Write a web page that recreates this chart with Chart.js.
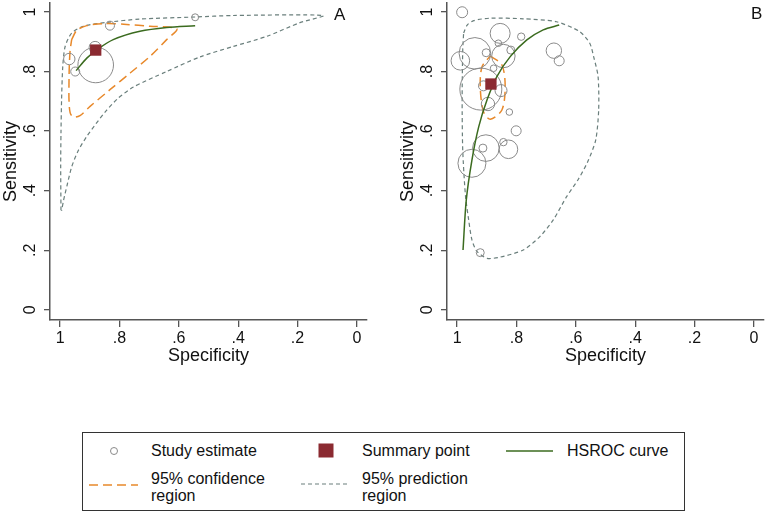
<!DOCTYPE html>
<html>
<head>
<meta charset="utf-8">
<script src="https://cdn.jsdelivr.net/npm/chart.js@4.4.1/dist/chart.umd.min.js"></script>
<style>
  body { margin: 0; background: #fff; font-family: "Liberation Sans", Arial, sans-serif; }
  #wrap { position: relative; width: 767px; height: 514px; overflow: hidden; background: #fff; }
  canvas { position: absolute; top: 0; }
  #chartA { left: 0; }
  #chartB { left: 397px; }
  .panel { position: absolute; font-size: 17px; color: #111; }
  #legend { position: absolute; left: 82px; top: 432px; width: 603px; height: 79px;
            border: 1.5px solid #333; box-sizing: border-box; }
  .lg { position: absolute; font-size: 16px; line-height: 17px; color: #111; white-space: nowrap; }
  .sw { position: absolute; }
</style>
</head>
<body>
<div id="wrap">
  <canvas id="chartA" width="383" height="372"></canvas>
  <canvas id="chartB" width="370" height="372"></canvas>
  <div class="panel" style="left:334px; top:5px;">A</div>
  <div class="panel" style="left:751px; top:4px;">B</div>

  <div id="legend">
    <svg class="sw" style="left:24px; top:11px;" width="14" height="14">
      <circle cx="7" cy="7" r="3.5" fill="none" stroke="#8a8a8a" stroke-width="1"/></svg>
    <div class="lg" style="left:68px; top:9px;">Study estimate</div>
    <svg class="sw" style="left:235px; top:10px;" width="16" height="15">
      <rect x="0.5" y="0.5" width="15" height="14" fill="#8B2A31"/></svg>
    <div class="lg" style="left:279px; top:9px;">Summary point</div>
    <svg class="sw" style="left:423px; top:15px;" width="48" height="6">
      <line x1="0" y1="3" x2="47" y2="3" stroke="#3B6B1F" stroke-width="1.5"/></svg>
    <div class="lg" style="left:484px; top:9px;">HSROC curve</div>

    <svg class="sw" style="left:6px; top:49px;" width="50" height="6">
      <line x1="0" y1="3" x2="49" y2="3" stroke="#E8892B" stroke-width="1.5" stroke-dasharray="9 5"/></svg>
    <div class="lg" style="left:68px; top:37px;">95% confidence<br>region</div>
    <svg class="sw" style="left:218px; top:48px;" width="50" height="6">
      <line x1="0" y1="3" x2="49" y2="3" stroke="#6a7f7c" stroke-width="1.2" stroke-dasharray="4 3"/></svg>
    <div class="lg" style="left:279px; top:37px;">95% prediction<br>region</div>
  </div>
</div>

<script>
// axis ticks
const tickVals = [0, 0.2, 0.4, 0.6, 0.8, 1];
const tickLabels = ['0', '.2', '.4', '.6', '.8', '1'];

// ---- panel A ----
const studySpecA = [0.545, 0.832, 0.882, 0.969, 0.949, 0.880];
const studySensA = [0.982, 0.954, 0.881, 0.842, 0.800, 0.822];
const studySizeA = [3.5, 4.5, 6, 5.7, 4.5, 17.8];

const summarySpecA = [0.880];
const summarySensA = [0.872];

const hsrocSpecA = [0.946, 0.910, 0.876, 0.821, 0.731, 0.641, 0.545];
const hsrocSensA = [0.803, 0.845, 0.873, 0.907, 0.935, 0.948, 0.954];

const confSpecA = [0.961, 0.944, 0.910, 0.843, 0.776, 0.697, 0.607, 0.641, 0.697, 0.764,
                   0.832, 0.899, 0.933, 0.955, 0.966, 0.970, 0.970, 0.969, 0.966, 0.961];
const confSensA = [0.907, 0.938, 0.954, 0.961, 0.958, 0.952, 0.943, 0.907, 0.851, 0.795,
                   0.739, 0.683, 0.652, 0.647, 0.661, 0.705, 0.762, 0.817, 0.873, 0.907];

const predSpecA = [0.997, 0.998, 0.997, 0.995, 0.991, 0.983, 0.961, 0.922, 0.843, 0.731, 0.545, 0.417, 0.113,
                   0.192, 0.304, 0.417, 0.529, 0.641, 0.753, 0.805, 0.845, 0.879, 0.911, 0.939, 0.961, 0.976, 0.988, 0.995];
const predSensA = [0.334, 0.481, 0.594, 0.705, 0.817, 0.884, 0.929, 0.952, 0.965, 0.976, 0.983, 0.988, 0.988,
                   0.964, 0.918, 0.884, 0.849, 0.800, 0.748, 0.710, 0.668, 0.625, 0.581, 0.534, 0.480, 0.420, 0.369, 0.332];

// ---- panel B ----
const studySpecB = [0.983, 0.940, 0.989, 0.855, 0.784, 0.861, 0.902, 0.844, 0.819, 0.674, 0.656, 0.877,
                    0.920, 0.911, 0.852, 0.896, 0.824, 0.801, 0.903, 0.913, 0.844, 0.827, 0.950, 0.922];
const studySensB = [0.999, 0.861, 0.836, 0.928, 0.917, 0.895, 0.863, 0.852, 0.872, 0.870, 0.836, 0.811,
                    0.741, 0.752, 0.736, 0.691, 0.664, 0.601, 0.543, 0.543, 0.563, 0.539, 0.492, 0.192];
const studySizeB = [5.5, 15.8, 9.3, 10, 3.7, 3.3, 4, 11.7, 4, 7.7, 5, 3.3,
                    21, 5, 6, 6.7, 3.3, 5, 13.3, 4, 3.7, 9.3, 14, 4];

const summarySpecB = [0.886];
const summarySensB = [0.758];

const hsrocSpecB = [0.980, 0.969, 0.950, 0.927, 0.899, 0.866, 0.821, 0.765, 0.710, 0.656];
const hsrocSensB = [0.201, 0.369, 0.503, 0.615, 0.705, 0.783, 0.850, 0.906, 0.940, 0.956];

const confSpecB = [0.888, 0.849, 0.838, 0.849, 0.888, 0.911, 0.922, 0.916, 0.888];
const confSensB = [0.852, 0.822, 0.749, 0.671, 0.640, 0.665, 0.749, 0.816, 0.852];

const predSpecB = [0.978, 0.966, 0.944, 0.888, 0.777, 0.665, 0.587, 0.553, 0.540, 0.525, 0.523, 0.533, 0.560, 0.593,
                   0.631, 0.676, 0.721, 0.777, 0.855, 0.899, 0.933, 0.950, 0.961, 0.972, 0.981, 0.983, 0.981, 0.978];
const predSensB = [0.929, 0.956, 0.971, 0.979, 0.977, 0.967, 0.934, 0.895, 0.850, 0.783, 0.671, 0.570, 0.497, 0.436,
                   0.380, 0.302, 0.246, 0.201, 0.177, 0.173, 0.196, 0.235, 0.302, 0.386, 0.537, 0.705, 0.872, 0.929];

Chart.defaults.font.family = '"Liberation Sans", Arial, sans-serif';
Chart.defaults.color = '#111';

const pts = (xs, ys) => xs.map((x, i) => ({ x: x, y: ys[i] }));

function datasets(p) {
  return [
    { // summary point drawn on top
      data: pts(p.sumX, p.sumY), pointStyle: 'rect', pointRadius: 8,
      pointBackgroundColor: '#8B2A31', pointBorderColor: '#8B2A31', pointBorderWidth: 0
    },
    {
      data: pts(p.hX, p.hY), showLine: true, borderColor: '#3B6B1F', borderWidth: 1.5,
      pointRadius: 0, tension: 0.3
    },
    {
      data: pts(p.sX, p.sY), pointRadius: p.sR, pointStyle: 'circle',
      pointBackgroundColor: 'rgba(0,0,0,0)', pointBorderColor: '#8a8a8a', pointBorderWidth: 1
    },
    {
      data: pts(p.cX, p.cY), showLine: true, borderColor: '#E8892B', borderWidth: 1.5,
      borderDash: [9, 5], pointRadius: 0, tension: 0.3
    },
    {
      data: pts(p.pX, p.pY), showLine: true, borderColor: '#6a7f7c', borderWidth: 1.2,
      borderDash: [4, 3], pointRadius: 0, tension: 0.25
    }
  ];
}

// fixed axis boxes so both panels get the same plot frame
function fitX(s) { s.height = 52; s.paddingLeft = 0; s.paddingRight = 0; }
function fitY(s) { s.width = 50; s.paddingTop = 0; s.paddingBottom = 0; }

function makePanel(id, p, padRight) {
  return new Chart(document.getElementById(id), {
    type: 'scatter',
    data: { datasets: datasets(p) },
    options: {
      responsive: false,
      animation: false,
      events: [],
      layout: { autoPadding: false, padding: { left: 0, top: 3, right: padRight, bottom: 0 } },
      plugins: { legend: { display: false }, tooltip: { enabled: false } },
      scales: {
        x: {
          type: 'linear', reverse: true, min: -0.034, max: 1.034,
          afterBuildTicks: s => { s.ticks = tickVals.map(v => ({ value: v })); },
          afterFit: fitX,
          ticks: { callback: (v, i) => tickLabels[i], font: { size: 16 }, padding: 2,
                   maxRotation: 0, autoSkip: false },
          grid: { drawOnChartArea: false, tickLength: 7, color: '#555', lineWidth: 1.3 },
          border: { display: true, color: '#555', width: 1.5 },
          title: { display: true, text: 'Specificity', font: { size: 18 }, padding: { top: 0, bottom: 5 } }
        },
        y: {
          type: 'linear', min: -0.034, max: 1.03,
          afterBuildTicks: s => { s.ticks = tickVals.map(v => ({ value: v })); },
          afterFit: fitY,
          ticks: { callback: (v, i) => tickLabels[i], font: { size: 16 }, padding: 7,
                   minRotation: 90, maxRotation: 90, crossAlign: 'center', autoSkip: false },
          grid: { drawOnChartArea: false, tickLength: 6, color: '#555', lineWidth: 1.3 },
          border: { display: true, color: '#555', width: 1.5 },
          title: { display: true, text: 'Sensitivity', font: { size: 18 }, padding: { top: 0, bottom: 0 } }
        }
      }
    }
  });
}

makePanel('chartA', {
  sumX: summarySpecA, sumY: summarySensA, hX: hsrocSpecA, hY: hsrocSensA,
  sX: studySpecA, sY: studySensA, sR: studySizeA,
  cX: confSpecA, cY: confSensA, pX: predSpecA, pY: predSensA
}, 16);

makePanel('chartB', {
  sumX: summarySpecB, sumY: summarySensB, hX: hsrocSpecB, hY: hsrocSensB,
  sX: studySpecB, sY: studySensB, sR: studySizeB,
  cX: confSpecB, cY: confSensB, pX: predSpecB, pY: predSensB
}, 3);
</script>
</body>
</html>
